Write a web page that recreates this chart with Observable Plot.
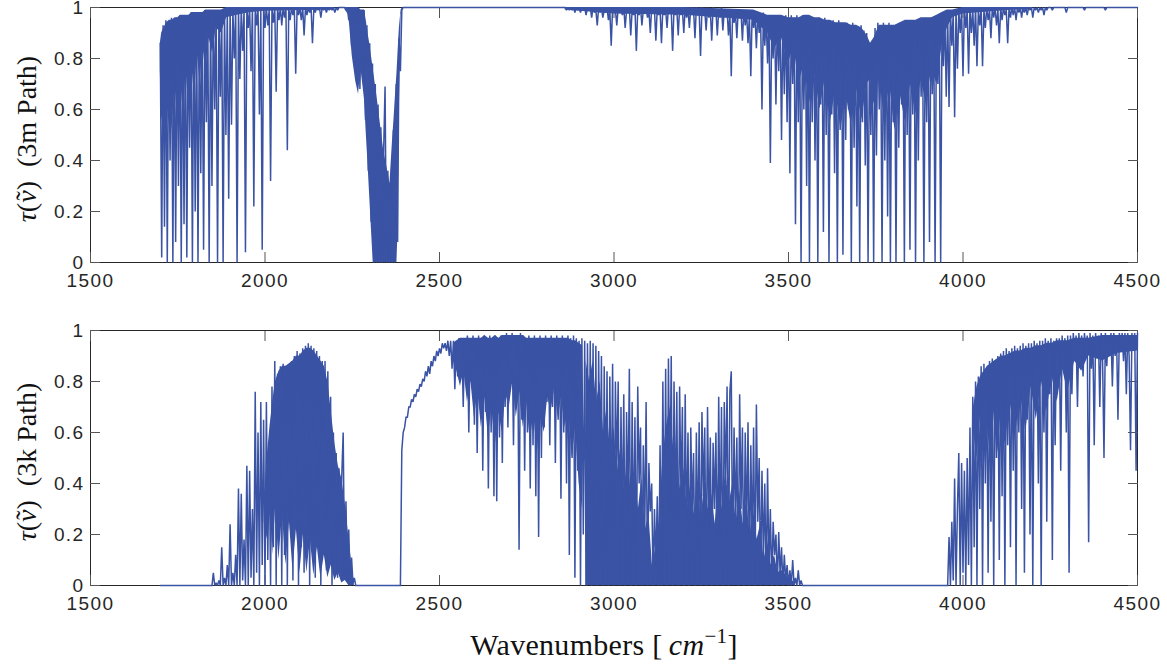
<!DOCTYPE html>
<html>
<head>
<meta charset="utf-8">
<script src="https://cdn.jsdelivr.net/npm/d3@7"></script>
<script src="https://cdn.jsdelivr.net/npm/@observablehq/plot@0.6"></script>
<style>
  body { margin: 0; background: #fff; }
  #wrap { position: relative; width: 1167px; height: 665px; overflow: hidden; background: #fff; }
  .panel { position: absolute; left: 0; }
  .ylab { position: absolute; font-family: "Liberation Serif", serif; font-size: 28px; line-height: 1;
          white-space: nowrap; color: #111; transform: translate(-50%, -50%) rotate(-90deg); }
  .xlab { position: absolute; font-family: "Liberation Serif", serif; font-size: 30px; line-height: 1;
          white-space: nowrap; color: #111; transform: translateX(-50%); letter-spacing: 0.3px; }
  .nu { position: relative; display: inline-block; font-style: italic; }
  .tl { position: absolute; left: 0.08em; top: -0.02em; font-style: normal; }
  sup { font-size: 0.7em; vertical-align: 0.55em; line-height: 0; }
</style>
</head>
<body>
<div id="wrap">
  <div id="top" class="panel" style="top:0px"></div>
  <div id="bottom" class="panel" style="top:300px"></div>
  <div class="ylab" style="left:27px; top:139px"><i>τ</i>(<span class="nu">ν<span class="tl">˜</span></span>)&nbsp;&nbsp;(3m Path)</div>
  <div class="ylab" style="left:27px; top:462px"><i>τ</i>(<span class="nu">ν<span class="tl">˜</span></span>)&nbsp;&nbsp;(3k Path)</div>
  <div class="xlab" style="left:604px; top:630px">Wavenumbers [&#8201;<i>cm</i><sup>−1</sup>]</div>
</div>
<script>
// sample spacing of the transmittance arrays (cm^-1)
const step = 4;

// axis ticks
const xTicks = [1500, 2000, 2500, 3000, 3500, 4000, 4500];
const yTicks = [0, 0.2, 0.4, 0.6, 0.8, 1];

// ---- 3 m path: transmittance (percent), sampled every 4 cm^-1 ----
const tau3mStart1 = 1700;
const tau3m1 = [
  86,2,93,14,95,0,94,40,96,0,
  95,8,96,30,97,0,96,15,97,2,
  97,45,98,0,97,20,98,0,98,35,
  98,5,99,55,98,0,99,30,99,60,
  99,0,98,65,99,0,99,50,99,25,
  100,54,99,80,100,0,100,72,100,83,
  99,4,100,92,100,75,100,22,100,93,
  100,58,99,5,100,92,100,93,99,32,
  100,94,100,67,100,95,100,93,100,96,
  100,44,100,95,100,97,100,74,100,97,
  100,95,100,89,100,97,100,98,100,86,
  100,98,100,99,100,96,100,99,100,98,
  100,99,100,99,100,98,100,99,100,100,
  100,100,100,99,100,95,100,85,100,77,
  100,70,99,68,99,72,99,56,93,36,
  86,16,78,0,70,0,62,0,53,0,
  44,69,0,36,0,31,0,52,0,70,
  8,88,75,99,100
];
const tau3mStart2 = 2860;
const tau3m2 = [
  100,99,100,99,100,99,100,98,100,99,
  100,98,100,99,100,97,100,99,100,96,
  100,98,99,93,100,98,100,96,99,98,
  100,95,99,85,100,98,99,93,100,98,
  99,97,100,92,99,98,100,89,99,97,
  100,83,99,97,100,93,99,98,100,96,
  99,90,100,98,99,87,100,97,99,86,
  100,97,99,92,100,98,99,83,100,97,
  99,89,100,97,99,90,100,96,99,92,
  100,98,99,88,100,97,99,81,100,97,
  99,91,100,96,99,87,100,97,99,89,
  99,96,100,91,99,97,99,89,98,73,
  99,94,98,88,99,96,98,87,99,93,
  98,86,97,73,99,92,97,84,98,90,
  97,60,98,85,96,78,97,39,96,80,
  97,62,96,75,97,48,95,66,97,55,
  96,35,97,70,96,15,97,55,96,0,
  97,60,96,30,97,0,95,55,96,40,
  95,0,96,62,95,12,96,50,95,0,
  94,58,95,35,94,0,95,52,94,3,
  93,48,94,60,93,0,94,45,93,22,
  92,0,93,55,91,38,90,0,86,50,
  87,0,92,42,94,60,93,0,94,40,
  93,18,94,0,93,55,92,0,93,45,
  94,62,93,0,95,50,94,5,95,58,
  94,0,95,40,94,65,95,0,96,55,
  95,8,96,66,96,0,97,70,97,0,
  98,77,97,65,98,61,99,85,98,57,
  99,76,99,90,99,73,100,92,99,74,
  100,90,99,85,100,77,99,93,100,77,
  99,92,100,95,99,88,100,96,100,93,
  99,86,100,95,100,97,99,86,100,96,
  100,97,100,95,100,98,100,96,100,98,
  100,97,100,99,100,96,100,99,100,98,
  100,99,100,97,100,99,100,100,100,99,
  100
];
// sparse weak lines in the 3 m tail: [wavenumber, percent]
const tau3mTail = [[4292,100],[4296,98],[4300,100],[4344,100],[4348,99],[4352,100],[4404,100],[4408,99],[4412,100],[4500,100]];

// densely packed (solid-looking) parts of the 3 m spectrum: [wavenumber, low %, high %]
const band3mH2Oa = [[1700,75,86],[1704,55,90],[1710,62,92],[1718,48,94],[1726,66,95],[1734,52,95],[1742,70,96],[1750,55,96],[1758,72,97],[1766,58,97],[1774,75,97],[1782,60,97],[1790,78,98],[1798,65,98],[1806,82,98],[1814,70,98],[1822,85,98],[1830,75,99],[1840,88,99],[1850,82,99],[1860,92,99],[1875,90,99],[1890,96,100],[1920,97,100],[1960,98,100],[2000,98.5,100],[2200,99,100]];
const band3mCO2 = [[2230,99,100],[2240,97,100],[2250,81,100],[2260,71,100],[2268,66,100],[2275,76,99],[2285,64,99],[2290,51,95],[2295,39,90],[2300,26,86],[2305,13,81],[2310,0,76],[2320,0,66],[2330,0,55],[2340,0,44],[2350,0,37],[2358,0,31],[2365,0,47],[2370,0,57],[2375,0,68],[2378,0,74],[2381,12,82],[2385,60,92],[2390,97,99],[2394,99,100]];
const band3mH2Ob = [[2860,99,100],[3000,97.5,100],[3200,97,100],[3400,95,99],[3440,90,97],[3460,84,97],[3480,88,97],[3500,78,96],[3515,85,96],[3530,70,96],[3545,78,97],[3560,62,97],[3575,74,96],[3590,60,96],[3605,72,95],[3620,55,95],[3635,68,94],[3650,52,94],[3665,66,94],[3680,54,93],[3695,68,93],[3710,56,92],[3725,70,89],[3735,72,86],[3745,62,88],[3760,74,93],[3775,56,93],[3790,70,93],[3805,52,93],[3820,66,94],[3835,55,95],[3850,70,95],[3865,58,95],[3880,72,96],[3895,62,96],[3910,76,96],[3925,70,97],[3940,85,98],[3955,92,99],[3970,96,99],[4000,97.5,100],[4150,99,100],[4200,99,100]];

// ---- 3 km path: transmittance (percent), sampled every 4 cm^-1 ----
const tau3kLead = [[1700, 0]];
const tau3kStart1 = 1848;
const tau3k1 = [
  0,5,0,1,0,2,0,15,0,3,
  0,8,0,24,0,5,0,12,0,38,
  0,36,2,18,0,47,0,45,3,30,
  0,76,5,60,0,72,8,65,0,72,
  10,55,0,78,15,88,0,83,20,86,
  0,87,12,80,0,85,25,88,2,90,
  30,92,0,91,15,93,5,94,35,95,
  0,94,20,93,3,92,40,90,0,88,
  25,88,6,84,30,74,0,60,15,52,
  3,46,20,43,60,5,33,2,22,0,
  11,1,3,0
];
const tau3kStart2 = 2388;
const tau3k2 = [
  0,53,60,62,66,66,70,70,73,72,
  75,74,77,76,79,78,81,80,84,82,
  86,83,88,86,90,88,92,90,93,91,
  95,93,95,92,96,90,96,85,96,77,
  96,82,97,88,97,70,97,92,98,60,
  97,85,98,63,97,52,98,75,97,45,
  98,68,97,38,98,60,97,35,98,33,
  97,58,98,48,98,70,99,62,98,80,
  99,55,98,75,98,14,99,65,98,45,
  97,60,98,38,97,55,98,35,97,19,
  98,50,97,62,98,72,97,55,98,70,
  97,48,98,65,97,34,98,60,97,40,
  98,12,97,50,98,3,97,45,96,0,
  97,20,96,0,95,40,96,0,95,10,
  94,0,92,30,90,0,86,15,84,0,
  82,25,87,0,80,45,80,0,70,22,
  75,0,68,30,85,0,72,15,66,0,
  78,40,62,0,55,20,72,0,48,29,
  40,0,30,8,35,0,55,0,80,10,
  85,0,89,30,90,0,80,25,76,0,
  78,35,70,0,75,18,60,0,62,28,
  52,0,60,15,64,0,68,35,62,0,
  70,22,58,0,56,30,60,0,74,18,
  70,0,72,40,78,0,76,84,8,62,
  25,58,0,75,30,62,0,60,20,64,
  0,55,15,62,0,71,25,50,0,45,
  10,40,0,46,5,30,0,25,12,20,
  0,21,4,15,0,12,2,8,0,6,
  0,10,0,3,0,6,0,2,0
];
const tau3kStart3 = 3956;
const tau3k3 = [
  0,19,0,25,2,42,0,30,52,0,
  48,5,45,0,50,8,62,0,74,15,
  80,0,82,30,86,0,87,40,84,5,
  88,25,89,0,88,50,90,10,91,35,
  92,0,93,55,92,15,93,45,94,0,
  93,60,94,30,95,5,94,65,95,20,
  95,0,96,70,95,40,96,0,96,60,
  97,25,96,75,97,10,96,55,97,80,
  97,45,98,85,97,60,98,5,98,75,
  99,88,98,70,99,90,98,82,99,92,
  98,17,99,85,98,55,99,90,98,70,
  99,88,50,99,86,98,92,99,78,99,
  90,98,65,99,93,99,88,99,75,99,
  90,53,99,92,99,45,99
];

// densely packed (solid-looking) parts of the 3 km spectrum: [wavenumber, low %, high %]
const band3kA = [[1998,25,30],[2006,18,50],[2014,35,62],[2022,12,72],[2030,30,80],[2040,10,84],[2050,28,86],[2060,8,86],[2070,25,87],[2080,6,88],[2090,22,90],[2100,5,90],[2110,20,92],[2120,5,93],[2130,18,93],[2140,4,92],[2150,15,90],[2160,3,88],[2170,12,86],[2180,3,80],[2190,8,68],[2200,2,56],[2210,5,47],[2220,1,42],[2230,2,32],[2240,0,19],[2250,0,7],[2256,0,1]];
const band3kB = [[2540,88,95],[2550,84,96],[2560,78,97],[2570,84,97],[2580,72,97],[2590,80,97],[2600,66,97],[2610,76,97],[2620,62,97],[2630,74,98],[2640,58,97],[2650,70,97],[2660,55,98],[2670,68,97],[2680,60,98],[2690,75,98],[2700,70,98],[2710,80,98],[2720,66,98],[2730,76,98],[2740,62,98],[2750,72,97],[2760,56,97],[2770,68,97],[2780,52,97],[2790,66,97],[2800,60,97],[2810,74,97],[2820,68,97],[2830,78,97],[2840,66,97],[2850,74,97],[2860,62,97],[2870,70,97],[2880,50,96],[2890,62,96],[2900,40,95],[2910,30,94]];
const band3kC = [[2920,0,88],[2930,0,80],[2940,0,88],[2950,0,72],[2960,0,80],[2970,0,60],[2980,0,70],[2990,0,52],[3000,0,62],[3010,0,45],[3020,0,55],[3030,0,38],[3040,0,50],[3050,0,35],[3060,0,45],[3070,0,30],[3080,0,42],[3090,0,22],[3100,0,28],[3110,0,8],[3120,0,15],[3130,0,25],[3140,0,50],[3150,0,62],[3160,0,70],[3170,0,55],[3180,0,48],[3190,0,38],[3200,0,46],[3210,0,30],[3220,0,40],[3230,0,28],[3240,0,38],[3250,0,26],[3260,0,42],[3270,0,30],[3280,0,36],[3290,0,24],[3300,0,44],[3310,0,30],[3320,0,46],[3330,0,32],[3340,0,40],[3350,0,25],[3360,0,38],[3370,0,24],[3380,0,34],[3390,0,20],[3400,0,30],[3410,0,18],[3420,0,24],[3430,0,10],[3440,0,18],[3450,0,8],[3460,0,12],[3470,0,5],[3480,0,6],[3500,0,3],[3520,0,1]];
const band3kD = [[4030,60,70],[4040,50,78],[4050,66,82],[4060,45,84],[4070,62,86],[4080,50,87],[4090,68,88],[4100,52,89],[4110,70,90],[4120,55,90],[4135,72,91],[4150,58,92],[4165,75,92],[4180,60,93],[4195,78,93],[4210,65,94],[4225,80,94],[4240,68,95],[4255,82,95],[4270,72,96],[4285,85,96],[4300,76,96],[4320,88,97],[4340,84,97],[4360,90,97],[4400,88,98],[4440,91,98],[4500,92,98]];

// ---- build tables ----
const fromSamples = (start, vals) => vals.map((v, i) => ({w: start + i * step, t: v / 100}));
const fromPairs = (pairs) => pairs.map(([w, v]) => ({w, t: v / 100}));
const fromBand = (rows) => rows.map(([w, lo, hi]) => ({w, lo: lo / 100, hi: hi / 100}));
const byW = (a, b) => a.w - b.w;

const data3m = [
  ...fromSamples(tau3mStart1, tau3m1),
  ...fromSamples(tau3mStart2, tau3m2),
  ...fromPairs(tau3mTail)
].sort(byW);
const bands3m = [band3mH2Oa, band3mCO2, band3mH2Ob].map(fromBand);

const data3k = [
  ...fromPairs(tau3kLead),
  ...fromSamples(tau3kStart1, tau3k1),
  ...fromSamples(tau3kStart2, tau3k2),
  ...fromSamples(tau3kStart3, tau3k3)
].sort(byW);
const bands3k = [band3kA, band3kB, band3kC, band3kD].map(fromBand);

const ink = "#262626";
const blue = "#3a53a4";

function panel(data, bands, height, marginTop, marginBottom) {
  return Plot.plot({
    width: 1167,
    height,
    marginLeft: 90,
    marginRight: 30,
    marginTop,
    marginBottom,
    style: {fontFamily: "'Liberation Sans', Arial, sans-serif", fontSize: "19px", letterSpacing: "1.4px", color: ink, background: "white", overflow: "visible"},
    x: {domain: [1500, 4500]},
    y: {domain: [0, 1]},
    marks: [
      Plot.frame({stroke: ink, strokeWidth: 1}),
      Plot.axisX(xTicks, {anchor: "bottom", tickSize: -10, tickPadding: 21, label: null, tickFormat: d => String(d), stroke: "#555", fill: ink}),
      Plot.axisX(xTicks, {anchor: "top", tickSize: -10, tickFormat: () => "", label: null, stroke: "#555"}),
      Plot.axisY(yTicks, {anchor: "left", tickSize: -10, tickPadding: 16, label: null, tickFormat: d => String(d), stroke: "#555", fill: ink}),
      Plot.axisY(yTicks, {anchor: "right", tickSize: -10, tickFormat: () => "", label: null, stroke: "#555"}),
      ...bands.map(b => Plot.areaY(b, {x: "w", y1: "lo", y2: "hi", fill: blue, curve: "linear"})),
      Plot.line(data, {x: "w", y: "t", stroke: blue, strokeWidth: 1.5, strokeLinejoin: "miter", strokeMiterlimit: 2, curve: "linear"})
    ]
  });
}

document.getElementById("top").append(panel(data3m, bands3m, 300, 7, 38));
document.getElementById("bottom").append(panel(data3k, bands3k, 365, 30, 80));
</script>
</body>
</html>
